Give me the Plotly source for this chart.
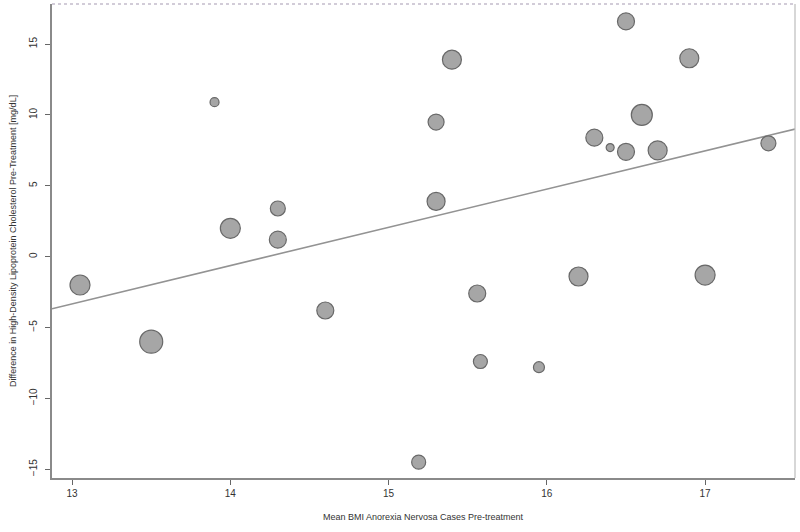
import plotly.graph_objects as go

# ---- data ----
mean_bmi = [13.05, 13.50, 13.90, 14.00, 14.30, 14.30, 14.60, 15.30, 15.40, 15.30,
            16.50, 16.90, 16.60, 16.30, 16.40, 16.50, 16.70, 17.40, 15.19, 15.56,
            15.58, 15.95, 16.20, 17.00]
hdl_diff = [-2.0, -6.0, 10.9, 2.0, 3.4, 1.2, -3.8, 9.5, 13.9, 3.9,
            16.6, 14.0, 10.0, 8.4, 7.7, 7.4, 7.5, 8.0, -14.5, -2.6,
            -7.4, -7.8, -1.4, -1.3]
study_weight = [20, 23, 9, 20, 15, 17, 17, 16, 19, 18,
                17, 19, 21, 17, 8, 17, 19, 15, 14, 17,
                14, 11, 19, 20]

reg_intercept = -38.43   # meta-regression line: y = a + b*x
reg_slope = 2.70

x_ticks = [13, 14, 15, 16, 17]
y_ticks = [-15, -10, -5, 0, 5, 10, 15]
x_range = [12.873, 17.568]
y_range = [-15.62, 17.83]

x_title = "Mean BMI Anorexia Nervosa Cases Pre-treatment"
y_title = "Difference in High-Density Lipoprotein Cholesterol Pre-Treatment [mg/dL]"

FONT = "Liberation Sans, Arial, sans-serif"

fig = go.Figure()

line_x = [x_range[0], x_range[1]]
line_y = [reg_intercept + reg_slope * v for v in line_x]
fig.add_trace(go.Scatter(
    x=line_x, y=line_y, mode="lines",
    line=dict(color="#939393", width=1.6),
    hoverinfo="skip", showlegend=False))

fig.add_trace(go.Scatter(
    x=mean_bmi, y=hdl_diff, mode="markers",
    marker=dict(size=study_weight, sizemode="diameter", sizeref=1,
                color="#a6a6a6", line=dict(color="#686868", width=1.2),
                opacity=1),
    showlegend=False))

fig.update_layout(
    width=800, height=532,
    margin=dict(l=52, r=5, t=4, b=54),
    paper_bgcolor="white", plot_bgcolor="white",
    font=dict(family=FONT, size=10, color="#333333"),
    xaxis=dict(range=x_range, tickvals=x_ticks, ticks="outside", ticklen=5,
               tickcolor="#666666", showgrid=False, zeroline=False,
               showline=True, linecolor="#8a8a8a", linewidth=1.5,
               tickfont=dict(size=10, color="#333333")),
    yaxis=dict(range=y_range, tickvals=y_ticks, ticks="outside", ticklen=5,
               tickcolor="#666666", showgrid=False, zeroline=False,
               showline=True, linecolor="#8a8a8a", linewidth=1.5,
               tickangle=-90, tickfont=dict(size=10, color="#333333"),
               ticklabelstandoff=4),
    shapes=[
        dict(type="line", xref="paper", yref="paper", x0=0, x1=1, y0=1, y1=1,
             line=dict(color="#c4bccb", width=1.5, dash="dot")),
        dict(type="line", xref="paper", yref="paper", x0=1, x1=1, y0=0, y1=1,
             line=dict(color="#bdbdbd", width=1.2)),
    ],
    annotations=[
        dict(text=x_title, xref="paper", yref="paper", x=0.5, y=0,
             yshift=-39, xanchor="center", yanchor="middle", showarrow=False,
             font=dict(size=9, color="#333333")),
        dict(text=y_title, xref="paper", yref="paper", x=0, y=0.5,
             xshift=-39, textangle=-90, xanchor="center", yanchor="middle",
             showarrow=False, font=dict(size=9, color="#333333")),
    ],
)

fig.write_html("out.html",
               config={"displayModeBar": False},
               post_script="document.body.style.margin='0';document.body.style.padding='0';")
